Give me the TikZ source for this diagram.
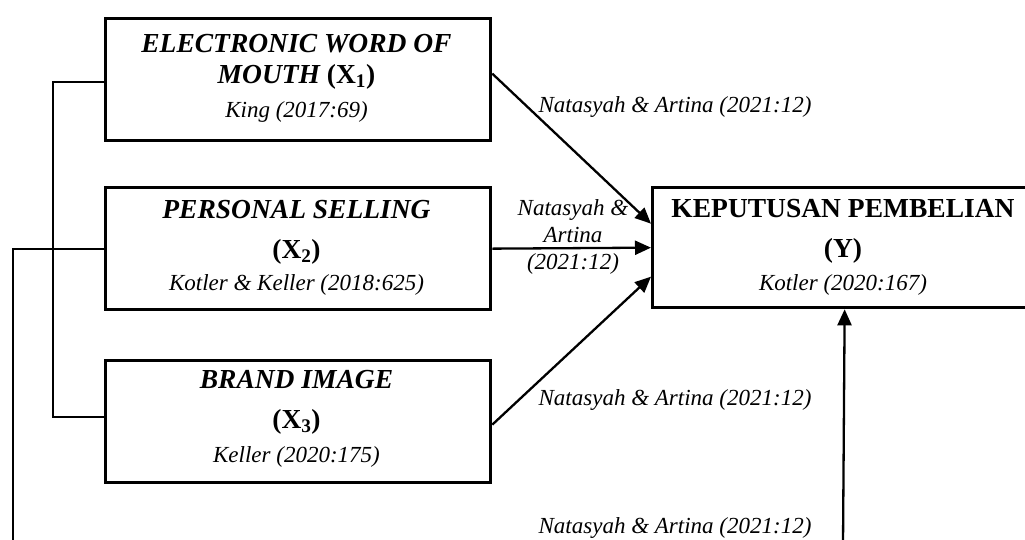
\documentclass[tikz,border=0pt]{standalone}
\usepackage{fontspec}
\setmainfont{Liberation Serif}
\usetikzlibrary{arrows.meta}
\begin{document}
\begin{tikzpicture}[x=1pt,y=-1pt,
  box/.style={draw,line width=3.3pt,minimum width=385pt,minimum height=122pt,anchor=north west,inner sep=0pt},
  ttl/.style={anchor=base,font=\fontsize{27.5}{30}\selectfont\bfseries,inner sep=0pt},
  cite/.style={anchor=base,font=\fontsize{23}{27}\selectfont\itshape,inner sep=0pt},
  conn/.style={line width=2.3pt,-{Triangle[length=16pt,width=14pt]}},
  brk/.style={line width=1.7pt}]
\useasboundingbox (0,0) rectangle (1025,539);
\clip (0,0) rectangle (1025,539);

% boxes
\node[box] (x1) at (104,17) {};
\node[box] (x2) at (104,186) {};
\node[box] (x3) at (104,359) {};
\node[box,minimum width=384pt,minimum height=120pt] (y) at (651,186) {};

% texts in boxes
\node[ttl] (x1a) at (296.5,52) {\itshape ELECTRONIC WORD OF};
\node[ttl] (x1b) at (296.5,83) {{\itshape MOUTH} (X\textsubscript{1})};
\node[cite] (x1c) at (296.5,117) {King (2017:69)};

\node[ttl] (x2a) at (296.5,218) {\itshape PERSONAL SELLING};
\node[ttl] (x2b) at (296.5,258) {(X\textsubscript{2})};
\node[cite] (x2c) at (296.5,290) {Kotler \& Keller (2018:625)};

\node[ttl] (x3a) at (296.5,388) {\itshape BRAND IMAGE};
\node[ttl] (x3b) at (296.5,428) {(X\textsubscript{3})};
\node[cite] (x3c) at (296.5,462) {Keller (2020:175)};

\node[ttl] (ya) at (843,217) {KEPUTUSAN PEMBELIAN};
\node[ttl] (yb) at (843,257) {(Y)};
\node[cite] (yc) at (843,290) {Kotler (2020:167)};

% arrows
\draw[conn] ([yshift=6pt]x1.east) -- ([yshift=24pt]y.west);
\draw[conn] (x2.east) -- (y.west);
\draw[conn] ([yshift=-3pt]x3.east) -- ([yshift=-29pt]y.west);
\coordinate (bt) at (843,545);
\draw[conn] (bt) -- (y.south);

% labels
\node[cite] (l1) at (675,112) {Natasyah \& Artina (2021:12)};
\node[cite] (l2a) at (573,215) {Natasyah \&};
\node[cite] (l2b) at (573,242) {Artina};
\node[cite] (l2c) at (573,269) {(2021:12)};
\node[cite] (l3) at (675,405) {Natasyah \& Artina (2021:12)};
\node[cite] (l4) at (675,533) {Natasyah \& Artina (2021:12)};

% left brackets
\draw[brk] ([yshift=-2pt]x1.west) -- ++(-51,0) |- ([yshift=4.5pt]x3.west);
\coordinate (bl) at (13,545);
\draw[brk] (x2.west) -| (bl);
\end{tikzpicture}
\end{document}
